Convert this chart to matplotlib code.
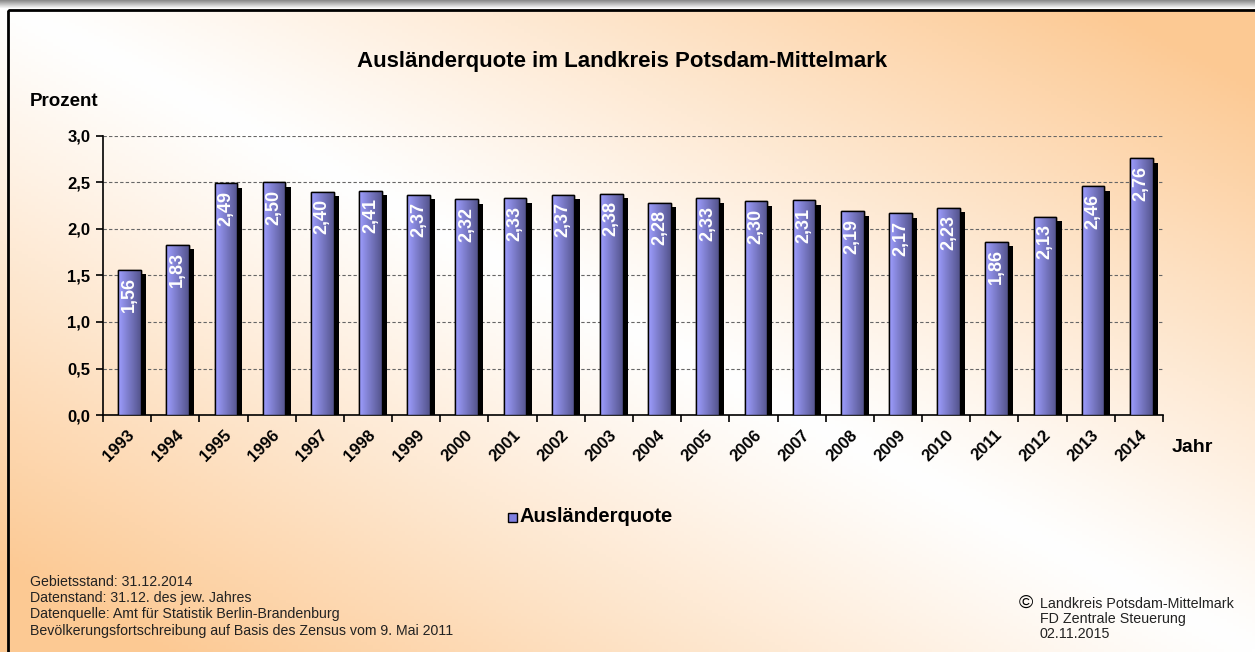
import numpy as np
import matplotlib.pyplot as plt
from matplotlib import patheffects as pe
from matplotlib.patches import Rectangle

plt.rcParams['font.family'] = ['Liberation Sans', 'DejaVu Sans']

# Daten
years = [str(y) for y in range(1993, 2015)]
quote = [1.56, 1.83, 2.49, 2.50, 2.40, 2.41, 2.37, 2.32, 2.33, 2.37, 2.38,
         2.28, 2.33, 2.30, 2.31, 2.19, 2.17, 2.23, 1.86, 2.13, 2.46, 2.76]
yticks = [0.0, 0.5, 1.0, 1.5, 2.0, 2.5, 3.0]

notes = ["Gebietsstand: 31.12.2014",
         "Datenstand: 31.12. des jew. Jahres",
         "Datenquelle: Amt für Statistik Berlin-Brandenburg",
         "Bevölkerungsfortschreibung auf Basis des Zensus vom 9. Mai 2011"]
credit = ["Landkreis Potsdam-Mittelmark", "FD Zentrale Steuerung", "02.11.2015"]

W, H = 1255, 652
fig = plt.figure(figsize=(W / 100, H / 100), dpi=100)

# Hintergrund: diagonaler Verlauf weiss -> orange
bg = fig.add_axes([0, 0, 1, 1], zorder=-10)
xx, yy = np.meshgrid(np.linspace(0, 1, 400), np.linspace(0, 1, 200))
t = np.clip(np.abs(xx - yy) * 1.15, 0, 1) ** 1.1
white = np.array([1.0, 1.0, 1.0])
orange = np.array([0.99, 0.79, 0.58])
img = white[None, None, :] * (1 - t[..., None]) + orange[None, None, :] * t[..., None]
bg.imshow(img, extent=[0, W, H, 0], aspect='auto')
# grauer Schatten oben + schwarzer Rahmen
shade = np.linspace(0.55, 1.0, 10)[:, None] * np.ones((1, 10))
bg.imshow(np.dstack([shade] * 3), extent=[0, W, 9, 0], aspect='auto')
bg.add_patch(Rectangle((8, 10), W, H, fill=False, edgecolor='black', lw=2))
bg.set_xlim(0, W)
bg.set_ylim(H, 0)
bg.axis('off')

ax = fig.add_axes([103 / W, 237 / H, 1060 / W, 279 / H])
ax.patch.set_alpha(0)
x = np.arange(len(years))
bars = ax.bar(x + 0.05, quote, width=0.47, color='#8080e0', edgecolor='black',
              linewidth=1.0, zorder=3)

grad = np.linspace(0, 1, 64)[None, :]
c1 = np.array([0.62, 0.62, 1.0])
c2 = np.array([0.33, 0.33, 0.55])
gimg = c1[None, None, :] * (1 - grad[..., None]) + c2[None, None, :] * grad[..., None]
for b in bars:
    b.set_path_effects([pe.SimplePatchShadow(offset=(3.8, -3.2), shadow_rgbFace='black', alpha=1.0),
                        pe.Normal()])
    bx, bw, bh = b.get_x(), b.get_width(), b.get_height()
    im = ax.imshow(gimg, extent=[bx, bx + bw, 0, bh], aspect='auto', zorder=3.5)
    im.set_clip_path(b)
    ax.add_patch(Rectangle((bx, 0), bw, bh, fill=False, edgecolor='black', lw=1.0, zorder=4))

for xi, v in zip(x, quote):
    ax.text(xi + 0.05, v - 0.08, f"{v:.2f}".replace('.', ','), rotation=90,
            ha='center', va='top', color='white', fontsize=13, fontweight='bold', zorder=5)

ax.set_xlim(-0.5, len(years) - 0.5)
ax.set_ylim(0, 3.0)
ax.set_yticks(yticks)
ax.set_yticklabels([f"{v:.1f}".replace('.', ',') for v in yticks], fontsize=12, fontweight='bold')
ax.set_xticks(x)
ax.set_xticklabels(years, rotation=45, ha='right', rotation_mode='anchor',
                   fontsize=12, fontweight='bold')
ax.set_xticks(np.arange(-0.5, len(years)), minor=True)
ax.tick_params(axis='x', which='major', length=0, pad=9)
ax.tick_params(axis='x', which='minor', length=5, direction='out', width=1.2)
ax.tick_params(axis='y', length=5, direction='out', width=1.2, pad=4)
ax.yaxis.grid(True, linestyle=(0, (3, 2)), color='#666666', linewidth=0.8, zorder=0)
for s in ['top', 'right']:
    ax.spines[s].set_visible(False)
ax.spines['left'].set_linewidth(1.2)
ax.spines['bottom'].set_linewidth(1.2)

fig.text(622 / W, 1 - 62 / H, "Ausländerquote im Landkreis Potsdam-Mittelmark",
         ha='center', va='center', fontsize=16, fontweight='bold')
fig.text(30 / W, 1 - 102 / H, "Prozent", ha='left', va='center', fontsize=13.5, fontweight='bold')
fig.text(1172 / W, 1 - 448 / H, "Jahr", ha='left', va='center', fontsize=14, fontweight='bold')

# Legende
fig.patches.append(Rectangle((508 / W, 1 - 522 / H), 9 / W, 9 / H, transform=fig.transFigure,
                             facecolor='#8080e0', edgecolor='black', lw=1))
fig.text(520 / W, 1 - 517 / H, "Ausländerquote", ha='left', va='center',
         fontsize=14.5, fontweight='bold')

fig.text(30 / W, 1 - 575 / H, "\n".join(notes), ha='left', va='top', fontsize=10.2,
         linespacing=1.2, color='#222222')
fig.text(1019 / W, 1 - 603 / H, "©", ha='left', va='center', fontsize=14)
fig.text(1040 / W, 1 - 597 / H, "\n".join(credit), ha='left', va='top', fontsize=10.3,
         linespacing=1.1, color='#222222')

fig.savefig('out.png', dpi=100)
